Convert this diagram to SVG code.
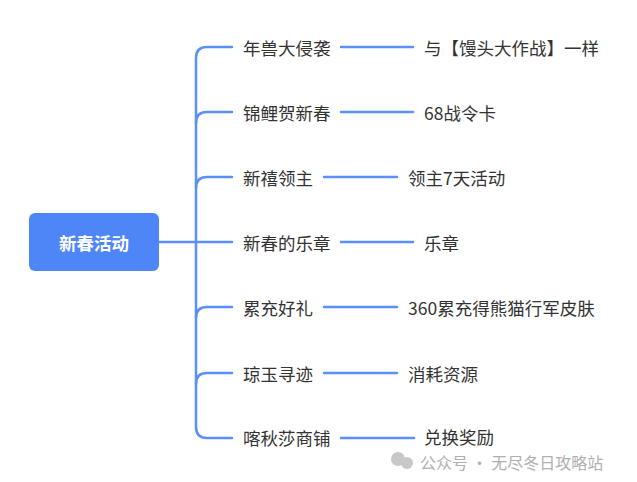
<svg xmlns="http://www.w3.org/2000/svg" width="637" height="482" viewBox="0 0 637 482">
<style>
.t{font-family:"Noto Sans CJK SC","Noto Sans",sans-serif;font-size:17.5px;fill:#333;dominant-baseline:central}
.c{fill:none;stroke:#5b8ff9;stroke-width:2.5;stroke-linecap:round}
</style>
<rect width="637" height="482" fill="#fff"/>
<g id="connectors" class="c">
<path d="M159 242H195M232 47H207Q196 47 196 58V427Q196 438 207 438H232"/>
<path d="M196 123Q196 112 207 112H232M196 188Q196 177 207 177H232M196 242H232M196 318Q196 307 207 307H232M196 384Q196 373 207 373H232"/>
<path d="M341 47H413M341 112H413M324 177H397M341 242H413M324 307H397M324 373H397M341 438H414"/>
</g>
<g id="root"><rect x="29" y="213" width="130" height="58" rx="6" fill="#4f86f7"/><text x="94" y="242" class="t" style="fill:#fff;font-weight:bold" text-anchor="middle">新春活动</text></g>
<g id="n1"><text x="243" y="47" class="t">年兽大侵袭</text></g>
<g id="n2"><text x="243" y="112" class="t">锦鲤贺新春</text></g>
<g id="n3"><text x="243" y="177" class="t">新禧领主</text></g>
<g id="n4"><text x="243" y="242" class="t">新春的乐章</text></g>
<g id="n5"><text x="243" y="307" class="t">累充好礼</text></g>
<g id="n6"><text x="243" y="373" class="t">琼玉寻迹</text></g>
<g id="n7"><text x="243" y="437" class="t">喀秋莎商铺</text></g>
<g id="m1"><text x="424" y="47" class="t">与【馒头大作战】一样</text></g>
<g id="m2"><text x="424" y="112" class="t">68战令卡</text></g>
<g id="m3"><text x="408" y="177" class="t">领主7天活动</text></g>
<g id="m4"><text x="424" y="242" class="t">乐章</text></g>
<g id="m5"><text x="408" y="307" class="t">360累充得熊猫行军皮肤</text></g>
<g id="m6"><text x="408" y="373" class="t">消耗资源</text></g>
<g id="m7"><text x="424" y="436" class="t">兑换奖励</text></g>
<g id="watermark"><circle cx="398" cy="459" r="7" fill="#c8c8c8"/><circle cx="407" cy="463" r="6" fill="#c8c8c8"/><text x="420" y="462" class="t" style="fill:#b0b0b0;font-size:16px">公众号 · 无尽冬日攻略站</text></g>
</svg>
